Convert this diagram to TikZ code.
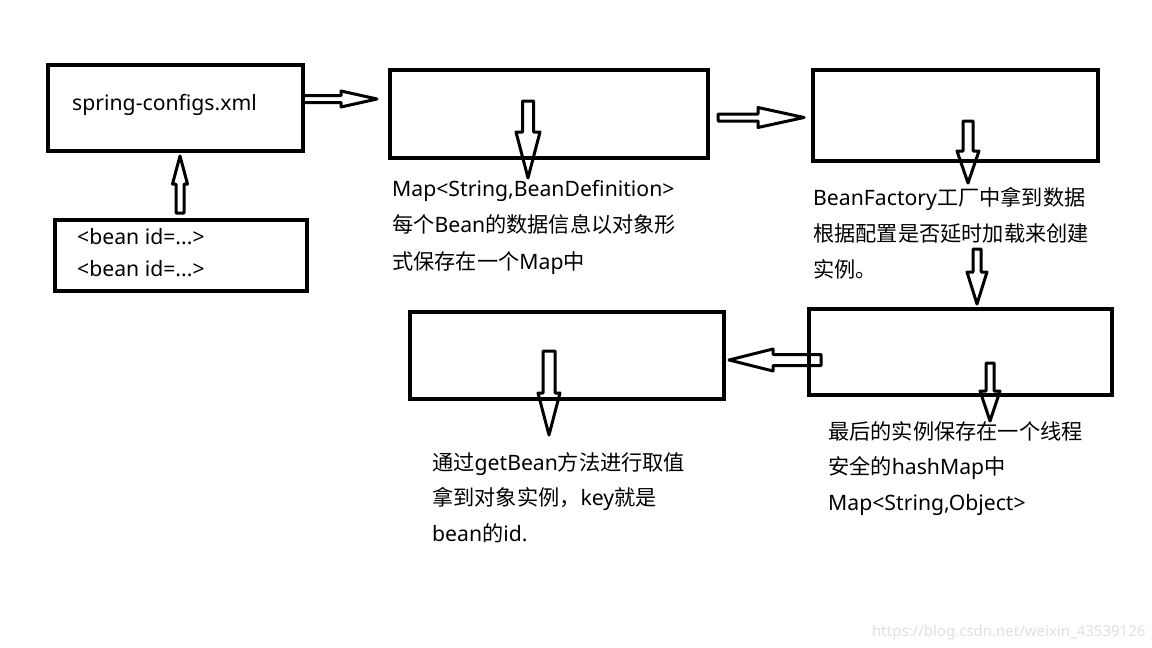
\documentclass[tikz,border=0pt]{standalone}
\usepackage{fontspec}
\setmainfont{Noto Sans}
\newfontfamily\cjk{Noto Sans CJK SC}
\newcommand\zh[1]{{\cjk #1}}
\begin{document}
\begin{tikzpicture}[x=1pt,y=-1pt,
  box/.style={draw=black,line width=3.5pt},
  arrowline/.style={draw=black,line width=3pt,line join=round},
  txt/.style={anchor=base west,inner sep=0pt,font=\fontsize{21.2}{24}\selectfont},
  pics/blockarrow/.style args={#1/#2/#3/#4}{code={
    \draw[arrowline] (0,-#2) -- ({#1-#4},-#2) -- ({#1-#4},-#3) -- (#1,0)
      -- ({#1-#4},#3) -- ({#1-#4},#2) -- (0,#2) -- cycle;}}]
\useasboundingbox (0,0) rectangle (1152,648);
\fill[white] (0,0) rectangle (1152,648);
% boxes
\node[box,minimum width=255pt,minimum height=86pt,anchor=north west] (cfg) at (46,63) {};
\node[box,minimum width=252pt,minimum height=71pt,anchor=north west] (beans) at (53,218) {};
\node[box,minimum width=318pt,minimum height=88pt,anchor=north west] (defs) at (388,68) {};
\node[box,minimum width=285pt,minimum height=91pt,anchor=north west] (fact) at (811,68) {};
\node[box,minimum width=303pt,minimum height=86pt,anchor=north west] (inst) at (807,307) {};
\node[box,minimum width=314pt,minimum height=87pt,anchor=north west] (get) at (408,310) {};
% arrow anchors
\coordinate (a1) at (303,99);
\coordinate (a2) at (528,101);
\coordinate (a3) at (718,117.5);
\coordinate (a4) at (180,213);
\coordinate (a5) at (968,121);
\coordinate (a6) at (977,249);
\coordinate (a7) at (990,363);
\coordinate (a8) at (821,360);
\coordinate (a9) at (549,351);
\pic at (a1) {blockarrow={74/3.5/8/36}};
\pic[rotate=-90] at (a2) {blockarrow={77/5.5/12/46}};
\pic at (a3) {blockarrow={86/3.5/10/46}};
\pic[rotate=90] at (a4) {blockarrow={57/4/7.5/28}};
\pic[rotate=-90] at (a5) {blockarrow={62/5/11/32}};
\pic[rotate=-90] at (a6) {blockarrow={55/4/10/32}};
\pic[rotate=-90] at (a7) {blockarrow={58/4/10/30}};
\pic[rotate=180] at (a8) {blockarrow={92/5.5/11/44}};
\pic[rotate=-90] at (a9) {blockarrow={84/6/11/42}};
% texts
\node[txt] (t1) at (72,110) {spring-configs.xml};
\node[txt] (t2) at (77,244) {<bean id=...>};
\node[txt] (t3) at (77,276) {<bean id=...>};
\node[txt] (t4) at (392,196) {Map<String,BeanDefinition>};
\node[txt] (t5) at (392,232) {\zh{每个}Bean\zh{的数据信息以对象形}};
\node[txt] (t6) at (392,269) {\zh{式保存在一个}Map\zh{中}};
\node[txt] (t7) at (813,205) {BeanFactory\zh{工厂中拿到数据}};
\node[txt] (t8) at (813,241) {\zh{根据配置是否延时加载来创建}};
\node[txt] (t9) at (813,277) {\zh{实例。}};
\node[txt] (t10) at (828,439) {\zh{最后的实例保存在一个线程}};
\node[txt] (t11) at (828,474) {\zh{安全的}hashMap\zh{中}};
\node[txt] (t12) at (828,510) {Map<String,Object>};
\node[txt] (t13) at (432,470) {\zh{通过}getBean\zh{方法进行取值}};
\node[txt] (t14) at (432,505) {\zh{拿到对象实例，}key\zh{就是}};
\node[txt] (t15) at (432,541) {bean\zh{的}id.};
\node[anchor=base west,inner sep=0pt,text=black!12,font=\fontsize{15}{17}\selectfont] (wm) at (872,636) {https://blog.csdn.net/weixin\_43539126};
\end{tikzpicture}
\end{document}
